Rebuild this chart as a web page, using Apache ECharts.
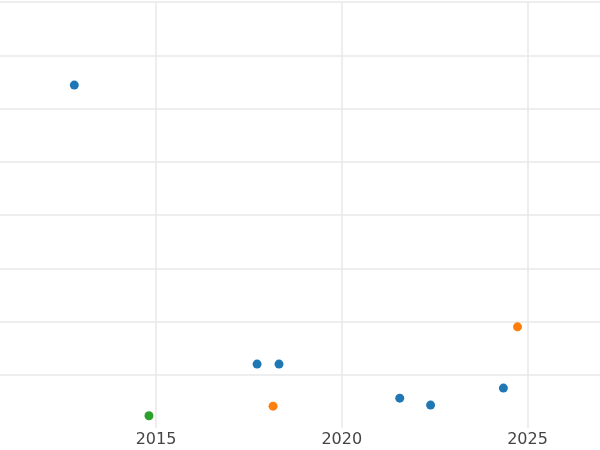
<!DOCTYPE html>
<html>
<head>
<meta charset="utf-8">
<script src="https://cdn.jsdelivr.net/npm/echarts@6/dist/echarts.min.js"></script>
<style>html,body{margin:0;padding:0;background:#fff}#chart{width:600px;height:450px}</style>
</head>
<body>
<div id="chart"></div>
<script>
// points: [year, value]
const blueSeries = [[2012.80, 6.44], [2017.72, 1.20], [2018.31, 1.20], [2021.56, 0.56], [2022.39, 0.43], [2024.35, 0.75]];
const orangeSeries = [[2024.73, 1.90], [2018.15, 0.41]];
const greenSeries = [[2014.81, 0.23]];
const yearTicks = [2015, 2020, 2025];

const chart = echarts.init(document.getElementById('chart'));

function dots(data, color) {
    return {
        type: 'scatter',
        data: data,
        symbol: 'circle',
        symbolSize: 9,
        itemStyle: { color: color, opacity: 1 }
    };
}

chart.setOption({
    animation: false,
    grid: { left: 0, right: 0, top: 2, bottom: 22, containLabel: false },
    xAxis: {
        type: 'value',
        min: 2010.8,
        max: 2026.95,
        axisLine: { show: false },
        axisTick: { show: false, customValues: yearTicks },
        axisLabel: {
            customValues: yearTicks,
            formatter: function (v) { return String(v); },
            color: '#444',
            fontSize: 16,
            fontFamily: 'DejaVu Sans',
            margin: 4
        },
        splitLine: { show: true, lineStyle: { color: '#e8e8e8', width: 1.5 } }
    },
    yAxis: {
        type: 'value',
        min: 0,
        max: 8,
        splitNumber: 8,
        axisLine: { show: false },
        axisTick: { show: false },
        axisLabel: { show: false },
        splitLine: { show: true, showMinLine: false, lineStyle: { color: '#e8e8e8', width: 1.5 } }
    },
    series: [
        dots(blueSeries, '#1f77b4'),
        dots(orangeSeries, '#ff7f0e'),
        dots(greenSeries, '#2ca02c')
    ]
});
</script>
</body>
</html>
